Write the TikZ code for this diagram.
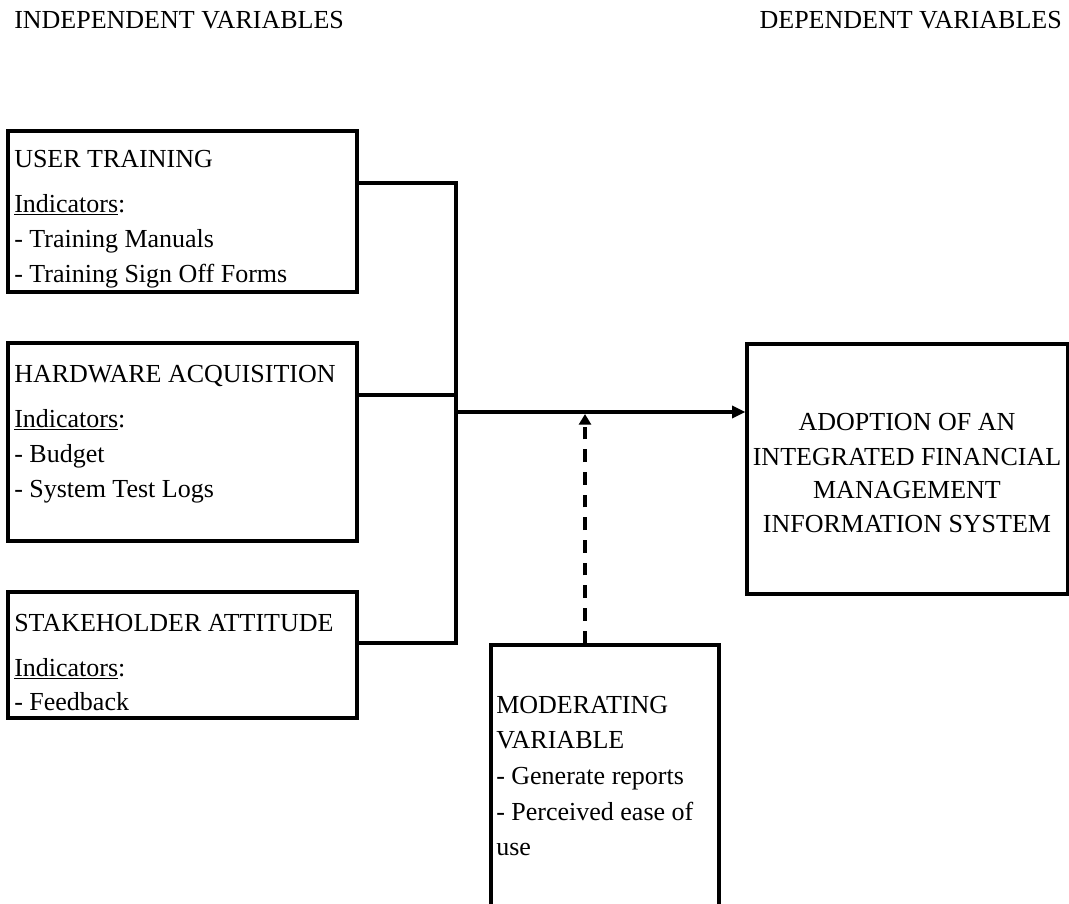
\documentclass[tikz,border=0pt]{standalone}
\usepackage{fontspec}
\setmainfont{Liberation Serif}
\usetikzlibrary{arrows.meta}
\begin{document}
\begin{tikzpicture}[x=0.75pt,y=-0.75pt,
  font=\fontsize{19.5pt}{23pt}\selectfont,
  box/.style={draw,line width=2.4pt,inner sep=0pt},
  txt/.style={inner sep=0pt,anchor=base west},
  ctxt/.style={inner sep=0pt,anchor=base},
  conn/.style={line width=2.4pt},
  arr/.style={line width=2.4pt,-{Triangle[length=10pt,width=9pt]}},
  darr/.style={line width=2.4pt,dash pattern=on 9.5pt off 7.5pt,-{Triangle[length=8pt,width=9pt]}}]
\useasboundingbox (0,0) rectangle (1069,903);

\node[txt] (hi) at (14,28) {INDEPENDENT VARIABLES};
\node[ctxt,anchor=base east] (hd) at (1062,28) {DEPENDENT VARIABLES};

\node[box,minimum width=261.75pt,minimum height=120.75pt] (b1) at (182.5,211.5) {};
\node[box,minimum width=261.75pt,minimum height=148.5pt] (b2) at (182.5,442) {};
\node[box,minimum width=261.75pt,minimum height=94.5pt] (b3) at (182.5,655) {};
\node[box,minimum width=240.75pt,minimum height=187.5pt] (rb) at (907.5,469) {};
\node[box,minimum width=171pt,minimum height=198.75pt] (mod) at (605,777.5) {};

\node[txt] (t11) at (14,167) {USER TRAINING};
\node[txt] (t12) at (14,212) {\underline{Indicators}:};
\node[txt] (t13) at (14,247) {- Training Manuals};
\node[txt] (t14) at (14,282) {- Training Sign Off Forms};

\node[txt] (t21) at (14,382) {HARDWARE ACQUISITION};
\node[txt] (t22) at (14,427) {\underline{Indicators}:};
\node[txt] (t23) at (14,462) {- Budget};
\node[txt] (t24) at (14,497) {- System Test Logs};

\node[txt] (t31) at (14,631) {STAKEHOLDER ATTITUDE};
\node[txt] (t32) at (14,676) {\underline{Indicators}:};
\node[txt] (t33) at (14,710) {- Feedback};

\node[ctxt] (r1) at (907,430) {ADOPTION OF AN};
\node[ctxt] (r2) at (907,465) {INTEGRATED FINANCIAL};
\node[ctxt] (r3) at (907,498) {MANAGEMENT};
\node[ctxt] (r4) at (907,532) {INFORMATION SYSTEM};

\node[txt] (m1) at (496,713) {MODERATING};
\node[txt] (m2) at (496,748) {VARIABLE};
\node[txt] (m3) at (496,784) {- Generate reports};
\node[txt] (m4) at (496,820) {- Perceived ease of};
\node[txt] (m5) at (496,855) {use};

\coordinate (top) at (456,183);
\coordinate (mid) at (456,395);
\coordinate (bot) at (456,643);
\coordinate (jn) at (456,412);
\coordinate (ma) at (585,414);

\draw[conn] (b1.east |- top) -- (top) -- (bot) -- (b3.east |- bot);
\draw[conn] (b2.east |- mid) -- (mid);
\draw[arr] (jn) -- (jn -| rb.west);
\draw[darr] (ma |- mod.north) -- (ma);
\end{tikzpicture}
\end{document}
